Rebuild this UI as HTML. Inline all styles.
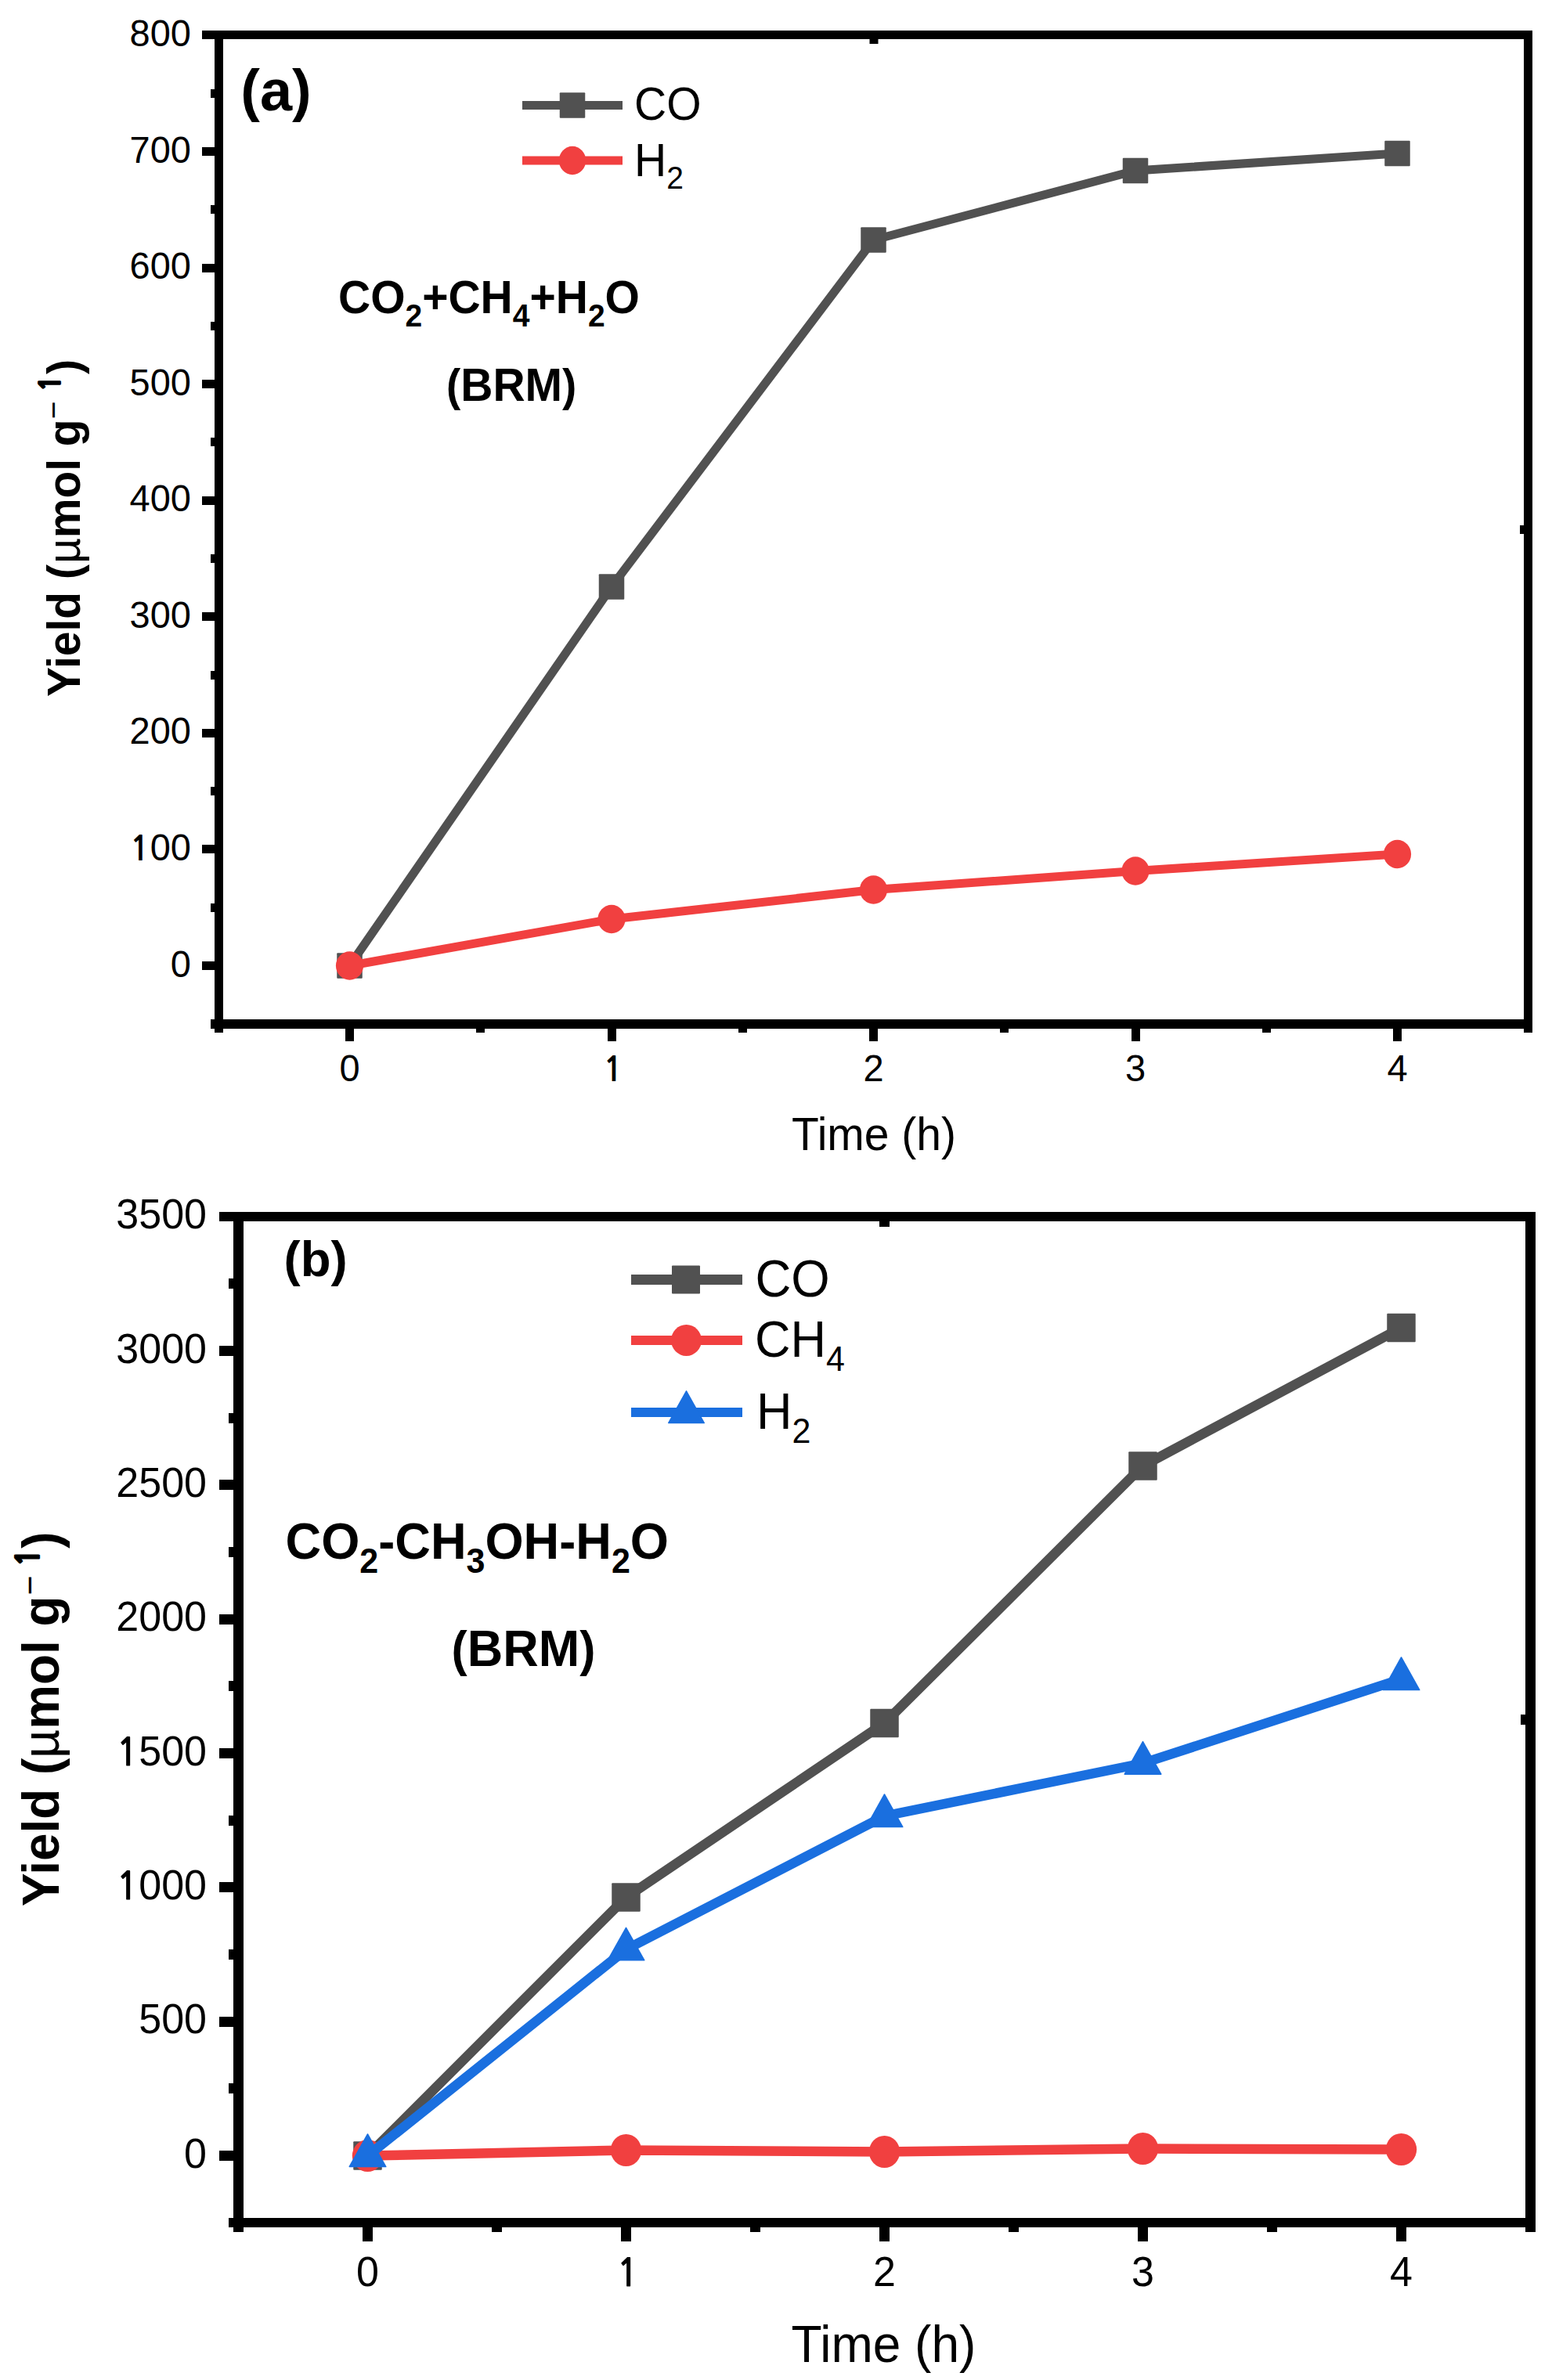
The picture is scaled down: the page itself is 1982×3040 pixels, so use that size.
<!DOCTYPE html>
<html><head><meta charset="utf-8"><title>Yield vs Time</title>
<style>
html,body{margin:0;padding:0;background:#fff;overflow:hidden;}
svg{display:block;}
</style></head>
<body>
<svg width="1982" height="3040" viewBox="0 0 1982 3040" font-family="'Liberation Sans', Arial, sans-serif">
<rect width="1982" height="3040" fill="#fff"/>
<rect x="274" y="39" width="11" height="1275" fill="#000"/>
<rect x="1946" y="39" width="11" height="1275" fill="#000"/>
<rect x="274" y="39" width="1683" height="11" fill="#000"/>
<rect x="274" y="1302" width="1683" height="12" fill="#000"/>
<rect x="258" y="1228" width="16" height="11" fill="#000"/>
<rect x="258" y="1079" width="16" height="11" fill="#000"/>
<rect x="258" y="931" width="16" height="11" fill="#000"/>
<rect x="258" y="782" width="16" height="11" fill="#000"/>
<rect x="258" y="634" width="16" height="11" fill="#000"/>
<rect x="258" y="485" width="16" height="11" fill="#000"/>
<rect x="258" y="337" width="16" height="11" fill="#000"/>
<rect x="258" y="188" width="16" height="11" fill="#000"/>
<rect x="258" y="39" width="16" height="11" fill="#000"/>
<rect x="269" y="1302" width="5" height="12" fill="#000"/>
<rect x="269" y="1154" width="5" height="11" fill="#000"/>
<rect x="269" y="1005" width="5" height="11" fill="#000"/>
<rect x="269" y="857" width="5" height="11" fill="#000"/>
<rect x="269" y="708" width="5" height="11" fill="#000"/>
<rect x="269" y="559" width="5" height="11" fill="#000"/>
<rect x="269" y="411" width="5" height="11" fill="#000"/>
<rect x="269" y="262" width="5" height="11" fill="#000"/>
<rect x="269" y="114" width="5" height="11" fill="#000"/>
<rect x="441" y="1314" width="11" height="16" fill="#000"/>
<rect x="776" y="1314" width="11" height="16" fill="#000"/>
<rect x="1110" y="1314" width="11" height="16" fill="#000"/>
<rect x="1445" y="1314" width="11" height="16" fill="#000"/>
<rect x="1779" y="1314" width="11" height="16" fill="#000"/>
<rect x="274" y="1314" width="11" height="5" fill="#000"/>
<rect x="608" y="1314" width="11" height="5" fill="#000"/>
<rect x="943" y="1314" width="11" height="5" fill="#000"/>
<rect x="1277" y="1314" width="11" height="5" fill="#000"/>
<rect x="1612" y="1314" width="11" height="5" fill="#000"/>
<rect x="1946" y="1314" width="11" height="5" fill="#000"/>
<rect x="1110.5" y="50" width="11.0" height="6" fill="#000"/>
<rect x="1941" y="671.0" width="5" height="11.0" fill="#000"/>
<text transform="translate(244,1247.5) scale(1,1.04)" font-size="47" font-weight="normal" text-anchor="end" >0</text>
<text transform="translate(244,1098.9) scale(1,1.04)" font-size="47" font-weight="normal" text-anchor="end" ><tspan font-family="NanumGothic, 'Liberation Sans', sans-serif" font-weight="bold" font-size="42.72">1</tspan><tspan dx="0.24">0</tspan>0</text>
<text transform="translate(244,950.4) scale(1,1.04)" font-size="47" font-weight="normal" text-anchor="end" >200</text>
<text transform="translate(244,801.8) scale(1,1.04)" font-size="47" font-weight="normal" text-anchor="end" >300</text>
<text transform="translate(244,653.2) scale(1,1.04)" font-size="47" font-weight="normal" text-anchor="end" >400</text>
<text transform="translate(244,504.6) scale(1,1.04)" font-size="47" font-weight="normal" text-anchor="end" >500</text>
<text transform="translate(244,356.1) scale(1,1.04)" font-size="47" font-weight="normal" text-anchor="end" >600</text>
<text transform="translate(244,207.5) scale(1,1.04)" font-size="47" font-weight="normal" text-anchor="end" >700</text>
<text transform="translate(244,58.9) scale(1,1.04)" font-size="47" font-weight="normal" text-anchor="end" >800</text>
<text transform="translate(446.5,1380.5) scale(1,1.04)" font-size="47" font-weight="normal" text-anchor="middle" >0</text>
<text transform="translate(783.0,1380.5) scale(1,1.04)" font-size="47" font-weight="normal" text-anchor="middle" ><tspan font-family="NanumGothic, 'Liberation Sans', sans-serif" font-weight="bold" font-size="42.72">1</tspan></text>
<text transform="translate(1115.5,1380.5) scale(1,1.04)" font-size="47" font-weight="normal" text-anchor="middle" >2</text>
<text transform="translate(1450.0,1380.5) scale(1,1.04)" font-size="47" font-weight="normal" text-anchor="middle" >3</text>
<text transform="translate(1784.5,1380.5) scale(1,1.04)" font-size="47" font-weight="normal" text-anchor="middle" >4</text>
<polyline points="446.50,1233.50 781.00,749.50 1115.50,306.50 1450.00,218.00 1784.50,196.00" fill="none" stroke="#515151" stroke-width="11.0" stroke-linejoin="miter" stroke-miterlimit="10"/>
<rect x="430.25" y="1217.25" width="32.5" height="32.5" rx="1" fill="#515151"/>
<rect x="764.75" y="733.25" width="32.5" height="32.5" rx="1" fill="#515151"/>
<rect x="1099.25" y="290.25" width="32.5" height="32.5" rx="1" fill="#515151"/>
<rect x="1433.75" y="201.75" width="32.5" height="32.5" rx="1" fill="#515151"/>
<rect x="1768.25" y="179.75" width="32.5" height="32.5" rx="1" fill="#515151"/>
<polyline points="446.50,1233.50 781.00,1174.00 1115.50,1136.50 1450.00,1112.50 1784.50,1091.00" fill="none" stroke="#F14040" stroke-width="11.0" stroke-linejoin="miter" stroke-miterlimit="10"/>
<ellipse cx="446.50" cy="1233.50" rx="17.6" ry="18.2" fill="#F14040"/>
<ellipse cx="781.00" cy="1174.00" rx="17.6" ry="18.2" fill="#F14040"/>
<ellipse cx="1115.50" cy="1136.50" rx="17.6" ry="18.2" fill="#F14040"/>
<ellipse cx="1450.00" cy="1112.50" rx="17.6" ry="18.2" fill="#F14040"/>
<ellipse cx="1784.50" cy="1091.00" rx="17.6" ry="18.2" fill="#F14040"/>
<rect x="667" y="129" width="128" height="11" fill="#515151"/>
<rect x="714.75" y="118.25" width="32.5" height="32.5" rx="1" fill="#515151"/>
<rect x="667" y="199.5" width="128" height="11.0" fill="#F14040"/>
<ellipse cx="731.00" cy="205.00" rx="17.2" ry="18.2" fill="#F14040"/>
<text transform="translate(810,153) scale(1,1.04)" font-size="57" font-weight="normal" text-anchor="start" >CO</text>
<text transform="translate(810,225) scale(1,1.04)" font-size="57" font-weight="normal" text-anchor="start" >H<tspan font-size="39" dy="15">2</tspan></text>
<text transform="translate(307.3,141) scale(1,1.0)" font-size="74" font-weight="bold" text-anchor="start" >(a)</text>
<text transform="translate(432,400) scale(1,1.04)" font-size="57" font-weight="bold" text-anchor="start" >CO<tspan font-size="39" dy="16">2</tspan><tspan dy="-16">+CH</tspan><tspan font-size="39" dy="16">4</tspan><tspan dy="-16">+H</tspan><tspan font-size="39" dy="16">2</tspan><tspan dy="-16">O</tspan></text>
<text transform="translate(570,512) scale(1,1.04)" font-size="57" font-weight="bold" text-anchor="start" ><tspan font-size="54.8">(</tspan>BRM<tspan font-size="54.8">)</tspan></text>
<text transform="translate(1011,1469) scale(1,1.04)" font-size="57" font-weight="normal" text-anchor="start" >Time (h)</text>
<text transform="translate(102,890) rotate(-90) scale(1,1.04)" font-size="57" font-weight="bold">Yield (<tspan font-weight="normal" dx="1">µ</tspan>mol g<tspan font-size="39" dy="-19" font-weight="normal">−</tspan><tspan font-family="NanumGothic, 'Liberation Sans', sans-serif" font-size="35.5" dx="12" dy="-5" stroke="#000" stroke-width="1.8">1</tspan><tspan dy="24" dx="1">)</tspan></text>
<rect x="298" y="1548" width="13" height="1297" fill="#000"/>
<rect x="1948" y="1548" width="13" height="1297" fill="#000"/>
<rect x="298" y="1548" width="1663" height="12" fill="#000"/>
<rect x="298" y="2833" width="1663" height="12" fill="#000"/>
<rect x="280" y="2747" width="18" height="13" fill="#000"/>
<rect x="280" y="2576" width="18" height="13" fill="#000"/>
<rect x="280" y="2404" width="18" height="13" fill="#000"/>
<rect x="280" y="2233" width="18" height="13" fill="#000"/>
<rect x="280" y="2062" width="18" height="13" fill="#000"/>
<rect x="280" y="1890" width="18" height="13" fill="#000"/>
<rect x="280" y="1719" width="18" height="13" fill="#000"/>
<rect x="280" y="1548" width="18" height="12" fill="#000"/>
<rect x="292" y="2833" width="6" height="12" fill="#000"/>
<rect x="292" y="2661" width="6" height="13" fill="#000"/>
<rect x="292" y="2490" width="6" height="13" fill="#000"/>
<rect x="292" y="2319" width="6" height="13" fill="#000"/>
<rect x="292" y="2147" width="6" height="13" fill="#000"/>
<rect x="292" y="1976" width="6" height="13" fill="#000"/>
<rect x="292" y="1805" width="6" height="13" fill="#000"/>
<rect x="292" y="1633" width="6" height="13" fill="#000"/>
<rect x="463" y="2845" width="13" height="18" fill="#000"/>
<rect x="793" y="2845" width="13" height="18" fill="#000"/>
<rect x="1123" y="2845" width="13" height="18" fill="#000"/>
<rect x="1453" y="2845" width="13" height="18" fill="#000"/>
<rect x="1783" y="2845" width="13" height="18" fill="#000"/>
<rect x="298" y="2845" width="13" height="6" fill="#000"/>
<rect x="628" y="2845" width="13" height="6" fill="#000"/>
<rect x="958" y="2845" width="13" height="6" fill="#000"/>
<rect x="1288" y="2845" width="13" height="6" fill="#000"/>
<rect x="1618" y="2845" width="13" height="6" fill="#000"/>
<rect x="1948" y="2845" width="13" height="6" fill="#000"/>
<rect x="1123.0" y="1560" width="13.0" height="7" fill="#000"/>
<rect x="1942" y="2190.0" width="6" height="13.0" fill="#000"/>
<text transform="translate(264,2768.8) scale(1,1.04)" font-size="52" font-weight="normal" text-anchor="end" >0</text>
<text transform="translate(264,2597.4) scale(1,1.04)" font-size="52" font-weight="normal" text-anchor="end" >500</text>
<text transform="translate(264,2426.1) scale(1,1.04)" font-size="52" font-weight="normal" text-anchor="end" ><tspan font-family="NanumGothic, 'Liberation Sans', sans-serif" font-weight="bold" font-size="47.27">1</tspan><tspan dx="0.27">0</tspan>00</text>
<text transform="translate(264,2254.7) scale(1,1.04)" font-size="52" font-weight="normal" text-anchor="end" ><tspan font-family="NanumGothic, 'Liberation Sans', sans-serif" font-weight="bold" font-size="47.27">1</tspan><tspan dx="0.27">5</tspan>00</text>
<text transform="translate(264,2083.4) scale(1,1.04)" font-size="52" font-weight="normal" text-anchor="end" >2000</text>
<text transform="translate(264,1912.0) scale(1,1.04)" font-size="52" font-weight="normal" text-anchor="end" >2500</text>
<text transform="translate(264,1740.6) scale(1,1.04)" font-size="52" font-weight="normal" text-anchor="end" >3000</text>
<text transform="translate(264,1569.3) scale(1,1.04)" font-size="52" font-weight="normal" text-anchor="end" >3500</text>
<text transform="translate(469.5,2920) scale(1,1.04)" font-size="52" font-weight="normal" text-anchor="middle" >0</text>
<text transform="translate(801.5,2920) scale(1,1.04)" font-size="52" font-weight="normal" text-anchor="middle" ><tspan font-family="NanumGothic, 'Liberation Sans', sans-serif" font-weight="bold" font-size="47.27">1</tspan></text>
<text transform="translate(1129.5,2920) scale(1,1.04)" font-size="52" font-weight="normal" text-anchor="middle" >2</text>
<text transform="translate(1459.5,2920) scale(1,1.04)" font-size="52" font-weight="normal" text-anchor="middle" >3</text>
<text transform="translate(1789.5,2920) scale(1,1.04)" font-size="52" font-weight="normal" text-anchor="middle" >4</text>
<polyline points="469.50,2753.50 799.50,2423.50 1129.50,2201.00 1459.50,1872.40 1789.50,1696.00" fill="none" stroke="#515151" stroke-width="12.5" stroke-linejoin="miter" stroke-miterlimit="10"/>
<rect x="451.25" y="2735.25" width="36.5" height="36.5" rx="1" fill="#515151"/>
<rect x="781.25" y="2405.25" width="36.5" height="36.5" rx="1" fill="#515151"/>
<rect x="1111.25" y="2182.75" width="36.5" height="36.5" rx="1" fill="#515151"/>
<rect x="1441.25" y="1854.15" width="36.5" height="36.5" rx="1" fill="#515151"/>
<rect x="1771.25" y="1677.75" width="36.5" height="36.5" rx="1" fill="#515151"/>
<polyline points="469.50,2753.50 799.50,2746.50 1129.50,2748.50 1459.50,2744.50 1789.50,2745.50" fill="none" stroke="#F14040" stroke-width="12.5" stroke-linejoin="miter" stroke-miterlimit="10"/>
<ellipse cx="469.50" cy="2753.50" rx="19.7" ry="20.5" fill="#F14040"/>
<ellipse cx="799.50" cy="2746.50" rx="19.7" ry="20.5" fill="#F14040"/>
<ellipse cx="1129.50" cy="2748.50" rx="19.7" ry="20.5" fill="#F14040"/>
<ellipse cx="1459.50" cy="2744.50" rx="19.7" ry="20.5" fill="#F14040"/>
<ellipse cx="1789.50" cy="2745.50" rx="19.7" ry="20.5" fill="#F14040"/>
<polyline points="469.50,2753.70 799.50,2490.00 1129.50,2319.70 1459.50,2252.30 1789.50,2144.70" fill="none" stroke="#1A6FDF" stroke-width="12.5" stroke-linejoin="miter" stroke-miterlimit="10"/>
<polygon points="469.50,2725.99 492.80,2767.55 446.20,2767.55" fill="#1A6FDF" stroke="#1A6FDF" stroke-width="1.5" stroke-linejoin="round"/>
<polygon points="799.50,2462.29 822.80,2503.85 776.20,2503.85" fill="#1A6FDF" stroke="#1A6FDF" stroke-width="1.5" stroke-linejoin="round"/>
<polygon points="1129.50,2291.99 1152.80,2333.55 1106.20,2333.55" fill="#1A6FDF" stroke="#1A6FDF" stroke-width="1.5" stroke-linejoin="round"/>
<polygon points="1459.50,2224.59 1482.80,2266.15 1436.20,2266.15" fill="#1A6FDF" stroke="#1A6FDF" stroke-width="1.5" stroke-linejoin="round"/>
<polygon points="1789.50,2116.99 1812.80,2158.55 1766.20,2158.55" fill="#1A6FDF" stroke="#1A6FDF" stroke-width="1.5" stroke-linejoin="round"/>
<rect x="806" y="1628" width="142" height="13" fill="#515151"/>
<rect x="858.00" y="1616.50" width="36" height="36" rx="1" fill="#515151"/>
<rect x="806" y="1706" width="142" height="12" fill="#F14040"/>
<ellipse cx="876.50" cy="1712.00" rx="19.5" ry="19.9" fill="#F14040"/>
<rect x="806" y="1798" width="142" height="12" fill="#1A6FDF"/>
<polygon points="876.50,1776.91 899.28,1817.54 853.72,1817.54" fill="#1A6FDF" stroke="#1A6FDF" stroke-width="1.5" stroke-linejoin="round"/>
<text transform="translate(964.5,1656) scale(1,1.04)" font-size="63.5" font-weight="normal" text-anchor="start" >CO</text>
<text transform="translate(964,1733) scale(1,1.04)" font-size="63" font-weight="normal" text-anchor="start" >CH<tspan font-size="43" dy="17">4</tspan></text>
<text transform="translate(966,1825) scale(1,1.04)" font-size="63" font-weight="normal" text-anchor="start" >H<tspan font-size="43" dy="17">2</tspan></text>
<text transform="translate(362.5,1630) scale(1,1.0)" font-size="63.5" font-weight="bold" text-anchor="start" >(b)</text>
<text transform="translate(364.5,1991) scale(1,1.04)" font-size="63.2" font-weight="bold" text-anchor="start" >CO<tspan font-size="43" dy="17">2</tspan><tspan dy="-17">-CH</tspan><tspan font-size="43" dy="17">3</tspan><tspan dy="-17">OH-H</tspan><tspan font-size="43" dy="17">2</tspan><tspan dy="-17">O</tspan></text>
<text transform="translate(576.5,2128) scale(1,1.04)" font-size="63" font-weight="bold" text-anchor="start" ><tspan font-size="60.6">(</tspan>BRM<tspan font-size="60.6">)</tspan></text>
<text transform="translate(1010.5,3017) scale(1,1.04)" font-size="64" font-weight="normal" text-anchor="start" >Time (h)</text>
<text transform="translate(75,2435) rotate(-90) scale(1,1.04)" font-size="63.9" font-weight="bold">Yield (<tspan font-weight="normal">µ</tspan>mol g<tspan font-size="43" dy="-21" dx="1" font-weight="normal">−</tspan><tspan font-family="NanumGothic, 'Liberation Sans', sans-serif" font-size="39.1" dy="-3" dx="11" stroke="#000" stroke-width="2">1</tspan><tspan dy="24">)</tspan></text>
</svg>
</body></html>
